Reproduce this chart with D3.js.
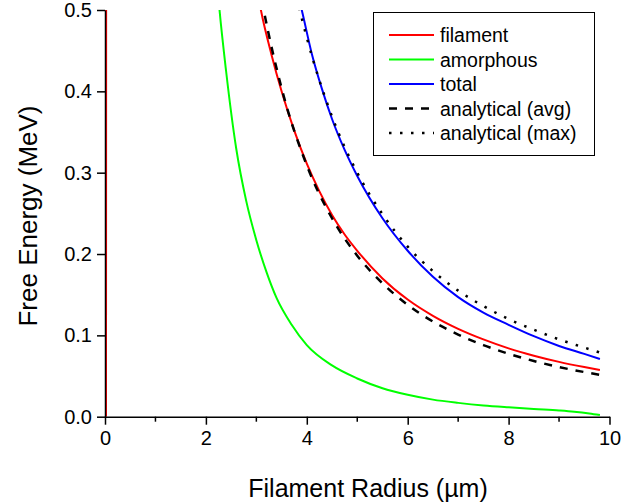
<!DOCTYPE html>
<html>
<head>
<meta charset="utf-8">
<script src="https://cdn.jsdelivr.net/npm/d3@7"></script>
<style>
  html, body { margin: 0; padding: 0; background: #fff; }
  svg { display: block; font-family: "Liberation Sans", Arial, sans-serif; }
</style>
</head>
<body>
<svg id="chart" width="621" height="504"></svg>
<script>
// Free energy (MeV) against filament radius (µm)
const filamentR   = [0.02, 0.035, 3.0, 3.09, 3.3, 3.5, 3.75, 4.0, 4.25, 4.5, 4.75, 5.0, 5.5, 6.0, 6.5, 7.0, 7.5, 8.0, 8.5, 9.0, 9.5, 9.81];
const filamentE   = [0.0, 3.0, 0.53, 0.50, 0.445, 0.40, 0.352, 0.311, 0.277, 0.248, 0.224, 0.204, 0.170, 0.144, 0.124, 0.108, 0.095, 0.084, 0.075, 0.0674, 0.061, 0.0574];

const amorphousR  = [2.2, 2.27, 2.4, 2.6, 2.8, 3.0, 3.2, 3.4, 3.7, 4.0, 4.5, 5.0, 5.5, 6.0, 6.5, 7.0, 7.5, 8.0, 8.5, 9.0, 9.3, 9.6, 9.81];
const amorphousE  = [0.55, 0.50, 0.425, 0.33, 0.265, 0.217, 0.178, 0.146, 0.113, 0.088, 0.063, 0.047, 0.035, 0.027, 0.021, 0.017, 0.0138, 0.0115, 0.0095, 0.0077, 0.0062, 0.004, 0.002];

const totalR      = [3.8, 3.9, 4.1, 4.3, 4.5, 4.75, 5.0, 5.5, 6.0, 6.5, 7.0, 7.5, 8.0, 8.5, 9.0, 9.5, 9.81];
const totalE      = [0.525, 0.50, 0.446, 0.403, 0.366, 0.328, 0.296, 0.244, 0.204, 0.172, 0.147, 0.128, 0.113, 0.099, 0.087, 0.0772, 0.071];

const avgR        = [3.05, 3.14, 3.5, 4.0, 4.5, 5.0, 5.5, 6.0, 6.5, 7.0, 7.5, 8.0, 8.5, 9.0, 9.5, 9.95];
const avgE        = [0.532, 0.502, 0.404, 0.309, 0.244, 0.198, 0.164, 0.1375, 0.117, 0.101, 0.088, 0.0773, 0.0685, 0.061, 0.0549, 0.050];

const maxR        = [3.8, 3.86, 4.0, 4.5, 5.0, 5.5, 6.0, 6.5, 7.0, 7.5, 8.0, 8.5, 9.0, 9.5, 9.85];
const maxE        = [0.516, 0.50, 0.466, 0.369, 0.300, 0.249, 0.209, 0.179, 0.155, 0.136, 0.120, 0.107, 0.095, 0.085, 0.078];

const xTicks      = [0, 2, 4, 6, 8, 10];
const xMinorTicks = [1, 3, 5, 7, 9];
const yTicks      = [0.0, 0.1, 0.2, 0.3, 0.4, 0.5];

const seriesNames = ["filament", "amorphous", "total", "analytical (avg)", "analytical (max)"];

const series = [
  { name: seriesNames[0], r: filamentR,  e: filamentE,  color: "#ff0000", width: 2,   dash: null },
  { name: seriesNames[1], r: amorphousR, e: amorphousE, color: "#00ff00", width: 2,   dash: null },
  { name: seriesNames[2], r: totalR,     e: totalE,     color: "#0000ff", width: 2,   dash: null },
  { name: seriesNames[3], r: avgR,       e: avgE,       color: "#000000", width: 2.5, dash: "8,8" },
  { name: seriesNames[4], r: maxR,       e: maxE,       color: "#000000", width: 2.5, dash: "2.5,8.5" }
];

const svg = d3.select("#chart");
const m = { left: 105, right: 609.5, top: 10, bottom: 416.7 };

const x = d3.scaleLinear().domain([0, 10]).range([m.left, m.right]);
const y = d3.scaleLinear().domain([0, 0.5]).range([m.bottom, m.top]);

svg.append("defs").append("clipPath").attr("id", "plot-clip")
  .append("rect")
  .attr("x", m.left).attr("y", m.top)
  .attr("width", m.right - m.left + 2).attr("height", m.bottom - m.top);

// curves
const line = d3.line()
  .x(d => x(d[0]))
  .y(d => y(d[1]))
  .curve(d3.curveMonotoneX);

const plot = svg.append("g").attr("clip-path", "url(#plot-clip)");
series.forEach(s => {
  const pts = s.r.map((r, i) => [r, s.e[i]]);
  plot.append("path")
    .datum(pts)
    .attr("d", line)
    .attr("fill", "none")
    .attr("stroke", s.color)
    .attr("stroke-width", s.width)
    .attr("stroke-dasharray", s.dash);
});

// axes
const xAxis = svg.append("g").attr("transform", `translate(0,${m.bottom})`)
  .call(d3.axisBottom(x).tickValues(xTicks).tickFormat(d3.format("d")).tickSizeInner(8).tickSizeOuter(0).tickPadding(6));

const xMinor = svg.append("g").attr("transform", `translate(0,${m.bottom})`);
xMinor.selectAll("line").data(xMinorTicks).join("line")
  .attr("x1", d => x(d)).attr("x2", d => x(d))
  .attr("y1", 0).attr("y2", 5)
  .attr("stroke", "#000").attr("stroke-width", 1.5);

const yAxis = svg.append("g").attr("transform", `translate(${m.left},0)`)
  .call(d3.axisLeft(y).tickValues(yTicks).tickFormat(d3.format(".1f")).tickSizeInner(8).tickSizeOuter(0).tickPadding(5));

[xAxis, yAxis].forEach(g => {
  g.select(".domain").attr("stroke", "#000").attr("stroke-width", 1.5);
  g.selectAll(".tick line").attr("stroke", "#000").attr("stroke-width", 1.5);
  g.selectAll(".tick text").attr("fill", "#000")
    .style("font-family", "'Liberation Sans', Arial, sans-serif")
    .style("font-size", "20px");
});

// axis titles
svg.append("text")
  .attr("x", 368).attr("y", 497)
  .attr("text-anchor", "middle")
  .style("font-size", "25px")
  .text("Filament Radius (\u00b5m)");

svg.append("text")
  .attr("transform", `translate(37,216) rotate(-90)`)
  .attr("text-anchor", "middle")
  .style("font-size", "26px")
  .text("Free Energy (MeV)");

// legend
const legend = svg.append("g");
legend.append("rect")
  .attr("x", 373.5).attr("y", 12.5)
  .attr("width", 221).attr("height", 143)
  .attr("fill", "#fff").attr("stroke", "#000").attr("stroke-width", 1);

const rowY = d3.scaleLinear().domain([0, 4]).range([35, 133]);
series.forEach((s, i) => {
  legend.append("line")
    .attr("x1", 389).attr("x2", 434)
    .attr("y1", rowY(i)).attr("y2", rowY(i))
    .attr("stroke", s.color)
    .attr("stroke-width", s.width)
    .attr("stroke-dasharray", s.dash);
  legend.append("text")
    .attr("x", 440).attr("y", rowY(i) + 7)
    .style("font-size", "19.5px")
    .text(s.name);
});
</script>
</body>
</html>
